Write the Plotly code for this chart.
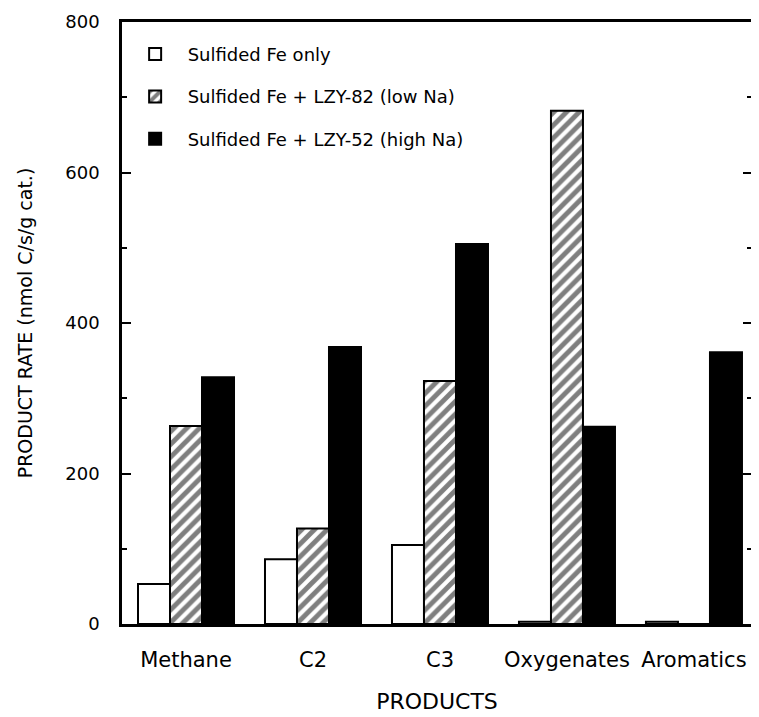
import plotly.graph_objects as go

categories = ["Methane", "C2", "C3", "Oxygenates", "Aromatics"]
fe_only = [53, 86, 105, 3, 3]
fe_lzy82 = [263, 127, 323, 682, 0]
fe_lzy52 = [328, 368, 505, 262, 361]
series_names = [
    "Sulfided Fe only",
    "Sulfided Fe + LZY-82 (low Na)",
    "Sulfided Fe + LZY-52 (high Na)",
]
y_ticks = [0, 200, 400, 600, 800]

FONT = "DejaVu Sans"

fig = go.Figure()
fig.add_trace(go.Bar(
    x=categories, y=fe_only, name=series_names[0], legendgroup="a",
    marker=dict(color="white", line=dict(color="black", width=2)),
))
fig.add_trace(go.Bar(
    x=categories, y=fe_lzy82, name=series_names[1], legendgroup="b",
    marker=dict(color="white", line=dict(color="black", width=2),
                pattern=dict(shape="/", fgcolor="black", bgcolor="white",
                             size=9, solidity=0.55, fillmode="overlay")),
))
fig.add_trace(go.Bar(
    x=categories, y=fe_lzy52, name=series_names[2], legendgroup="c",
    marker=dict(color="black", line=dict(color="black", width=2)),
))

# page body has an 8px default margin, so the figure is sized/offset for it
fig.update_layout(
    width=751, height=709,
    margin=dict(l=114, r=7, t=14, b=93),
    paper_bgcolor="white", plot_bgcolor="white",
    barmode="group", bargap=0.244, bargroupgap=0,
    font=dict(family=FONT, color="black"),
    showlegend=True,
    legend=dict(
        x=0.001, y=0.977, xanchor="left", yanchor="top",
        bgcolor="rgba(0,0,0,0)", borderwidth=0,
        font=dict(family=FONT, size=18, color="black"),
        traceorder="grouped", tracegroupgap=16, itemwidth=55,
    ),
    xaxis=dict(
        range=[-0.504, 4.457], showline=True, linecolor="black", linewidth=2.5,
        mirror=True, ticks="", showgrid=False, zeroline=False, automargin=False,
        tickfont=dict(family=FONT, size=21, color="black"),
        ticklabelstandoff=15,
        title=dict(text="PRODUCTS", font=dict(family=FONT, size=22, color="black"),
                   standoff=23),
    ),
    yaxis=dict(
        range=[0, 800], tickvals=y_ticks, ticktext=[str(v) for v in y_ticks],
        showline=True, linecolor="black", linewidth=2.5, mirror="ticks",
        ticks="inside", ticklen=9, tickwidth=2, tickcolor="black",
        minor=dict(dtick=100, ticks="inside", ticklen=5, tickwidth=2, tickcolor="black"),
        showgrid=False, zeroline=False, automargin=False,
        tickfont=dict(family=FONT, size=18, color="black"),
        ticklabelstandoff=16,
        title=dict(text="PRODUCT RATE (nmol C/s/g cat.)",
                   font=dict(family=FONT, size=19, color="black"), standoff=28),
    ),
)

fig.write_html("out.html")
